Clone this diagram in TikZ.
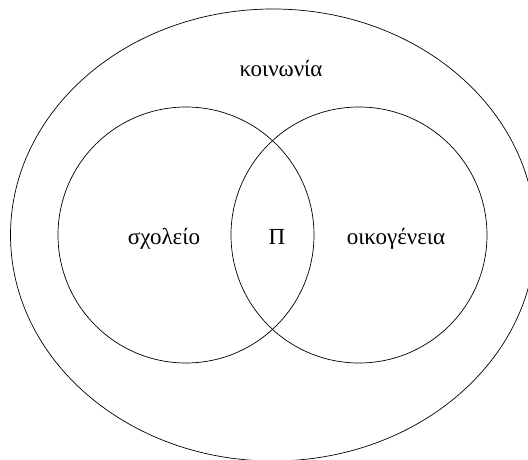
\documentclass[tikz,border=0pt]{standalone}
\usepackage{fontspec}
\setmainfont{Liberation Serif}
\usetikzlibrary{shapes.geometric, positioning}

\begin{document}
\begin{tikzpicture}[
    x=1pt, y=1pt,
    set/.style={circle, draw, line width=0.7pt, inner sep=0pt, minimum size=256pt},
    world/.style={ellipse, draw, line width=0.7pt, inner sep=0pt, minimum width=525pt, minimum height=452pt},
    lbl/.style={anchor=base, inner sep=0pt, font=\fontsize{23}{25}\selectfont}]
    \useasboundingbox (0,0) rectangle (528,459);
    \node[world] (soc) at (273,224) {};
    \node[set] (sch) at (186,224) {};
    \node[set] (fam) at (359,224) {};
    \node[lbl] (soct) at (281,382) {κοινωνία};
    \node[lbl] (scht) at (164,215) {σχολείο};
    \node[lbl] (pt) at (277,215) {Π};
    \node[lbl] (famt) at (396,215) {οικογένεια};
\end{tikzpicture}
\end{document}
